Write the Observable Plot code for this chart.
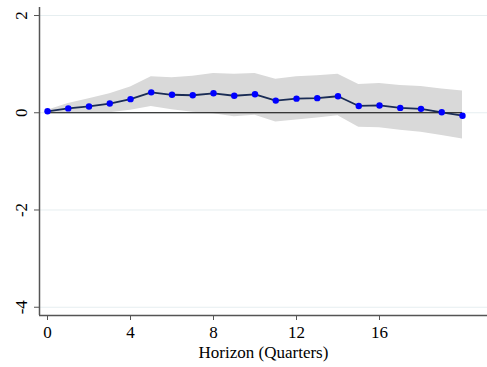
<!DOCTYPE html>
<html>
<head>
<meta charset="utf-8">
<script src="https://cdn.jsdelivr.net/npm/d3@7"></script>
<script src="https://cdn.jsdelivr.net/npm/@observablehq/plot@0.6"></script>
<style>
  html, body { margin: 0; padding: 0; background: #fff; }
  svg { display: block; }
  svg text { font-family: "Times New Roman", Tinos, "Liberation Serif", Times, "DejaVu Serif", serif !important; }
</style>
</head>
<body>
<div id="chart"></div>
<script>
const horizon = [0,1,2,3,4,5,6,7,8,9,10,11,12,13,14,15,16,17,18,19,20];
const irf   = [0.03,0.09,0.13,0.19,0.28,0.42,0.37,0.36,0.40,0.35,0.38,0.25,0.29,0.30,0.34,0.14,0.15,0.10,0.08,0.01,-0.06];
const upper = [0.05,0.19,0.29,0.39,0.53,0.74,0.72,0.75,0.81,0.79,0.81,0.69,0.74,0.76,0.79,0.58,0.60,0.56,0.54,0.49,0.45];
const lower = [0.01,0.00,0.00,0.00,0.05,0.13,0.06,0.01,-0.02,-0.08,-0.05,-0.19,-0.15,-0.11,-0.06,-0.30,-0.31,-0.36,-0.40,-0.47,-0.54];
const xTicks = [0,4,8,12,16];
const yTicks = [2,0,-2,-4];
const xTitle = "Horizon (Quarters)";

const data = horizon.map((h, i) => ({h, irf: irf[i], lo: lower[i], hi: upper[i]}));
const xDom = [-0.386, 21.205];
const yDom = [-4.17, 2.165];
const font = "'Times New Roman', Tinos, 'Liberation Serif', Times, 'DejaVu Serif', serif";

const chart = Plot.plot({
  width: 487,
  height: 367,
  marginLeft: 39,
  marginRight: 0,
  marginTop: 7,
  marginBottom: 52,
  style: {fontSize: "17px", background: "#fff"},
  x: {domain: xDom},
  y: {domain: yDom},
  marks: [
    Plot.gridY(yTicks, {stroke: "#e6eef0", strokeOpacity: 1, strokeWidth: 1}),
    Plot.areaY(data, {x: "h", y1: "lo", y2: "hi", fill: "#d9d9d9"}),
    Plot.ruleY([0], {x1: d3.min(horizon), x2: d3.max(horizon), stroke: "#000", strokeWidth: 1.2}),
    Plot.line(data, {x: "h", y: "irf", stroke: "#1a2c55", strokeWidth: 1.8}),
    Plot.dot(data, {x: "h", y: "irf", r: 3.2, fill: "#0000ff", stroke: "none"}),
    Plot.ruleX([xDom[0]], {stroke: "#555", strokeWidth: 1.5}),
    Plot.ruleY([yDom[0]], {stroke: "#555", strokeWidth: 1.5}),
    Plot.axisY({ticks: yTicks, tickSize: 5, tickFormat: () => "", stroke: "#555", label: null}),
    Plot.axisX({ticks: xTicks, tickSize: 5, tickFormat: () => "", stroke: "#555", label: null}),
    Plot.text(yTicks, {x: xDom[0], y: d => d, text: d => String(d), rotate: -90, dx: -18, fill: "#000", fontSize: 17, fontFamily: font, textAnchor: "middle", lineAnchor: "middle"}),
    Plot.text(xTicks, {x: d => d, y: yDom[0], text: d => String(d), dy: 10, fill: "#000", fontSize: 17, fontFamily: font, lineAnchor: "top"}),
    Plot.text([xTitle], {frameAnchor: "bottom", dy: 42, lineAnchor: "bottom", fill: "#000", fontSize: 17, fontFamily: font})
  ]
});

document.getElementById("chart").appendChild(chart);
</script>
</body>
</html>
